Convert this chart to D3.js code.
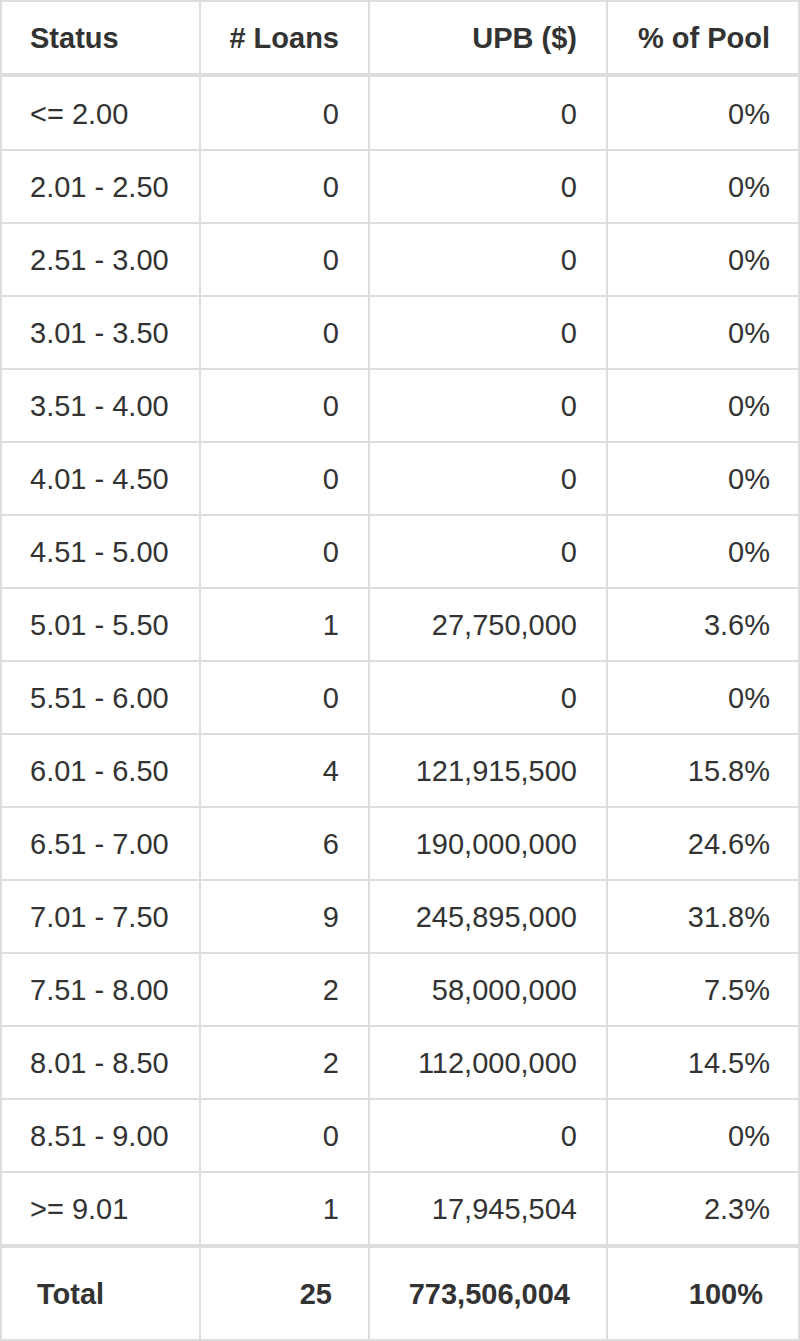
<!DOCTYPE html>
<html><head><meta charset="utf-8">
<script src="https://cdn.jsdelivr.net/npm/d3@7"></script>
<style>body{margin:0;background:#fff}text{font-family:"Liberation Sans",Arial,sans-serif;fill:#333}</style>
</head><body><svg id="c" width="800" height="1341"></svg>
<script>
var headers = ['Status', '# Loans', 'UPB ($)', '% of Pool'];
var statuses = ['<= 2.00','2.01 - 2.50','2.51 - 3.00','3.01 - 3.50','3.51 - 4.00','4.01 - 4.50','4.51 - 5.00','5.01 - 5.50','5.51 - 6.00','6.01 - 6.50','6.51 - 7.00','7.01 - 7.50','7.51 - 8.00','8.01 - 8.50','8.51 - 9.00','>= 9.01'];
var loans = [0,0,0,0,0,0,0,1,0,4,6,9,2,2,0,1];
var upb = ['0','0','0','0','0','0','0','27,750,000','0','121,915,500','190,000,000','245,895,000','58,000,000','112,000,000','0','17,945,504'];
var pct = ['0%','0%','0%','0%','0%','0%','0%','3.6%','0%','15.8%','24.6%','31.8%','7.5%','14.5%','0%','2.3%'];
var totals = ['Total', '25', '773,506,004', '100%'];

var svg = d3.select('#c');
var colEdges = [0, 200, 369, 607, 800];
var y = d3.scaleLinear().domain([0, statuses.length]).range([77, 77 + statuses.length * 73]);
var rowH = y(1) - y(0);
var line = '#dddddd';
var fs = '29px';

function cellX(i, extra) {
    return i === 0 ? colEdges[0] + 30 + extra : colEdges[i + 1] - 30 - extra;
}
function anchor(i) { return i === 0 ? 'start' : 'end'; }

// header
headers.forEach(function(h, i) {
    svg.append('text').attr('x', cellX(i, 0)).attr('y', 38).attr('dy', '0.35em')
        .attr('text-anchor', anchor(i)).style('font-size', fs).style('font-weight', 'bold').text(h);
});

// body
statuses.forEach(function(s, r) {
    var vals = [s, String(loans[r]), upb[r], pct[r]];
    var cy = y(r) + rowH / 2;
    vals.forEach(function(v, i) {
        svg.append('text').attr('x', cellX(i, 0)).attr('y', cy).attr('dy', '0.35em')
            .attr('text-anchor', anchor(i)).style('font-size', fs).text(v);
    });
    if (r > 0) {
        svg.append('line').attr('x1', 0).attr('x2', 800).attr('y1', y(r)).attr('y2', y(r))
            .attr('stroke', line).attr('stroke-width', 2);
    }
});

// total row
var bodyEnd = y(statuses.length);
totals.forEach(function(v, i) {
    svg.append('text').attr('x', cellX(i, 7)).attr('y', (bodyEnd + 1341) / 2 + 1).attr('dy', '0.35em')
        .attr('text-anchor', anchor(i)).style('font-size', fs).style('font-weight', 'bold').text(v);
});

// thick separators
[75, bodyEnd + 1].forEach(function(yy) {
    svg.append('line').attr('x1', 0).attr('x2', 800).attr('y1', yy).attr('y2', yy)
        .attr('stroke', line).attr('stroke-width', 4);
});

// vertical lines and outer border
colEdges.slice(1, -1).forEach(function(x) {
    svg.append('line').attr('x1', x).attr('x2', x).attr('y1', 0).attr('y2', 1341)
        .attr('stroke', line).attr('stroke-width', 2);
});
svg.append('rect').attr('x', 1).attr('y', 1).attr('width', 798).attr('height', 1339)
    .attr('fill', 'none').attr('stroke', line).attr('stroke-width', 2);
</script></body></html>
